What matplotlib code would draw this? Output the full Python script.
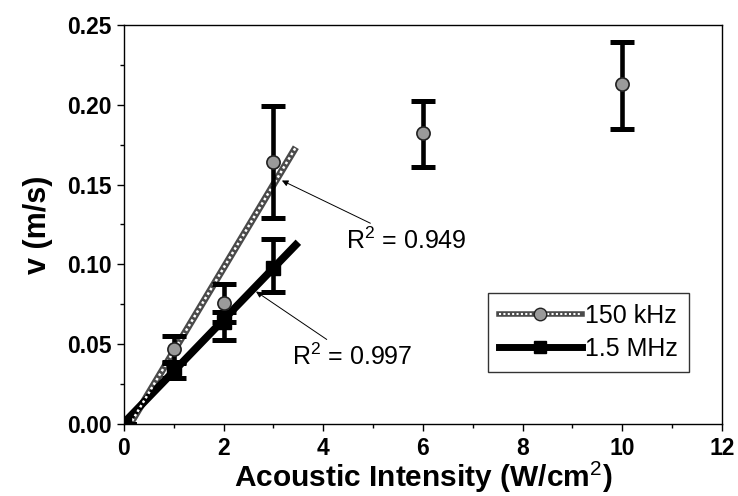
import matplotlib
matplotlib.use("Agg")
import matplotlib.pyplot as plt
import numpy as np
from matplotlib.ticker import MultipleLocator, FormatStrFormatter
from matplotlib.legend_handler import HandlerTuple

# data
khz_x = [0, 1, 2, 3, 6, 10]
khz_v = [0.0, 0.047, 0.076, 0.164, 0.182, 0.213]
khz_lo = [0.0, 0.039, 0.064, 0.129, 0.161, 0.185]
khz_hi = [0.0, 0.055, 0.088, 0.199, 0.2025, 0.239]

mhz_x = [0, 1, 2, 3]
mhz_v = [0.0, 0.035, 0.064, 0.098]
mhz_lo = [0.0, 0.029, 0.0525, 0.0825]
mhz_hi = [0.0, 0.038, 0.07, 0.116]

r2_khz = "0.949"
r2_mhz = "0.997"

plt.rcParams['font.family'] = ['Liberation Sans', 'DejaVu Sans']
plt.rcParams['mathtext.fontset'] = 'custom'
plt.rcParams['mathtext.rm'] = 'Liberation Sans'
plt.rcParams['mathtext.bf'] = 'Liberation Sans:bold'

fig = plt.figure(figsize=(7.38, 4.96), dpi=100)
ax = fig.add_axes([0.168, 0.145, 0.810, 0.805])

# linear fits over the low-intensity points
k_fit = np.polyfit(khz_x[:4], khz_v[:4], 1)
m_fit = np.polyfit(mhz_x, mhz_v, 1)
xf_k = np.array([0.0, 3.45])
xf_m = np.array([0.0, 3.5])

ax.plot(xf_k, np.polyval(k_fit, xf_k), color='#4a4a4a', lw=5, solid_capstyle='butt', zorder=3)
ax.plot(xf_k, np.polyval(k_fit, xf_k), color='white', lw=1.8, ls=(0, (1, 1.1)), zorder=3.1)
ax.plot(xf_m, np.polyval(m_fit, xf_m), color='black', lw=5.5, solid_capstyle='butt', zorder=3)

k_err = [np.array(khz_v) - np.array(khz_lo), np.array(khz_hi) - np.array(khz_v)]
m_err = [np.array(mhz_v) - np.array(mhz_lo), np.array(mhz_hi) - np.array(mhz_v)]

ax.errorbar(khz_x, khz_v, yerr=k_err, fmt='none', ecolor='black', elinewidth=3.3,
            capsize=8.5, capthick=3.6, zorder=4)
ax.errorbar(mhz_x, mhz_v, yerr=m_err, fmt='none', ecolor='black', elinewidth=3.3,
            capsize=8.5, capthick=3.6, zorder=4)
ax.plot(khz_x, khz_v, 'o', ms=9.5, mfc='#9a9a9a', mec='#222222', mew=1.2, zorder=5)
ax.plot(mhz_x, mhz_v, 's', ms=9.5, mfc='black', mec='black', zorder=5)

# legend handles (textured line for 150 kHz built from two overlaid lines)
h1a, = ax.plot([], [], color='#4a4a4a', lw=4)
h1b, = ax.plot([], [], color='white', lw=1.5, ls=(0, (1, 1.1)))
h1c, = ax.plot([], [], ls='none', marker='o', ms=9, mfc='#9a9a9a', mec='#222222')
h2, = ax.plot([], [], color='black', lw=5, marker='s', ms=9, mfc='black', mec='black')
leg = ax.legend([(h1a, h1b, h1c), h2], ['150 kHz', '1.5 MHz'], loc='lower right',
                handler_map={tuple: HandlerTuple(ndivide=1, pad=0)},
                bbox_to_anchor=(0.946, 0.13), borderaxespad=0, frameon=True, fancybox=False,
                edgecolor='black', handlelength=3.3, borderpad=0.45, labelspacing=0.35,
                handletextpad=0.15, prop={'family': 'Liberation Sans', 'size': 18})
leg.get_frame().set_linewidth(1.0)

arrow = dict(arrowstyle='-|>', color='black', lw=0.7, mutation_scale=9, shrinkA=2, shrinkB=0)
ax.annotate(r'R$^2$ = ' + r2_khz, xy=(3.17, 0.1525), xytext=(4.45, 0.115),
            fontsize=18, va='center', ha='left', arrowprops=arrow)
ax.annotate(r'R$^2$ = ' + r2_mhz, xy=(2.65, 0.083), xytext=(3.38, 0.042),
            fontsize=18, va='center', ha='left', arrowprops=arrow)

ax.set_xlim(0, 12)
ax.set_ylim(0, 0.25)
ax.xaxis.set_major_locator(MultipleLocator(2))
ax.xaxis.set_minor_locator(MultipleLocator(1))
ax.yaxis.set_major_locator(MultipleLocator(0.05))
ax.yaxis.set_minor_locator(MultipleLocator(0.025))
ax.yaxis.set_major_formatter(FormatStrFormatter('%.2f'))
ax.tick_params(which='major', direction='out', length=5, width=1, labelsize=16.5, pad=4)
ax.tick_params(which='minor', direction='out', length=3, width=1)
for lab in ax.get_xticklabels() + ax.get_yticklabels():
    lab.set_fontweight('bold')
for s in ax.spines.values():
    s.set_linewidth(1.0)

ax.set_xlabel('Acoustic Intensity (W/cm$^2$)', fontsize=21.5, fontweight='bold', labelpad=0)
ax.set_ylabel('v (m/s)', fontsize=22, fontweight='bold', labelpad=10)

fig.savefig('out.png', dpi=100)
